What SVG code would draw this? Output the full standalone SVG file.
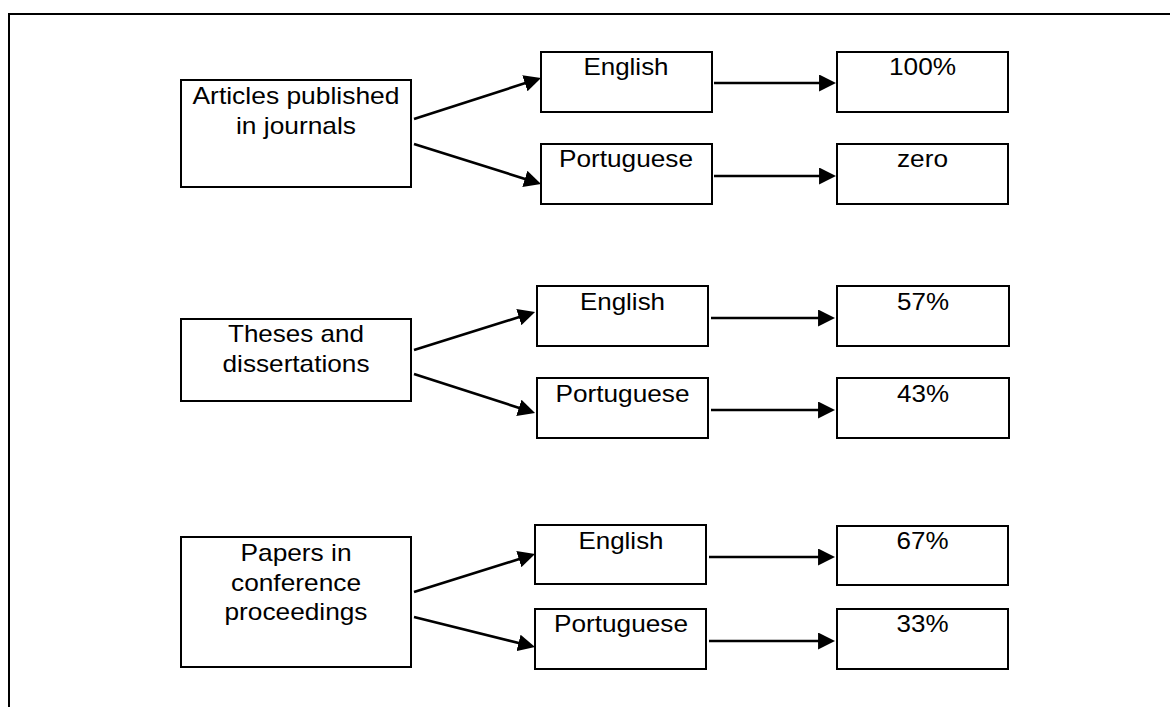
<svg xmlns="http://www.w3.org/2000/svg" width="1170" height="707" viewBox="0 0 1170 707">
<style>
.box{fill:#fff;stroke:#000;stroke-width:2}
.t{font-family:"Liberation Sans",Arial,sans-serif;font-size:24px;fill:#000;text-anchor:middle}
.c{stroke:#000;stroke-width:2.6;fill:none;marker-end:url(#ah)}
.frame{stroke:#000;stroke-width:2;fill:none}
</style>
<defs>
<marker id="ah" markerUnits="userSpaceOnUse" markerWidth="17" markerHeight="17" viewBox="0 0 16 16" refX="12" refY="8" orient="auto">
<path d="M0,0 L16,8 L0,16 z" fill="#000"/>
</marker>
</defs>
<rect width="1170" height="707" fill="#fff"/>
<path class="frame" d="M9,707 L9,14 L1170,14"/>

<g id="connectors">
<line class="c" x1="414" y1="119" x2="537" y2="79.3"/>
<line class="c" x1="414" y1="144" x2="537" y2="182.7"/>
<line class="c" x1="714" y1="83" x2="831.8" y2="83"/>
<line class="c" x1="714" y1="176" x2="831.8" y2="176"/>
<line class="c" x1="414" y1="350" x2="531" y2="313.3"/>
<line class="c" x1="414" y1="374" x2="531" y2="411.7"/>
<line class="c" x1="711" y1="318" x2="830.8" y2="318"/>
<line class="c" x1="711" y1="410" x2="830.8" y2="410"/>
<line class="c" x1="414" y1="592" x2="531" y2="555.3"/>
<line class="c" x1="414" y1="617" x2="530.9" y2="646"/>
<line class="c" x1="709" y1="557" x2="830.8" y2="557"/>
<line class="c" x1="709" y1="641" x2="830.8" y2="641"/>
</g>

<g id="articles">
<rect class="box" x="181" y="80" width="230" height="107"/>
<text class="t" x="296" y="104" textLength="207" lengthAdjust="spacingAndGlyphs">Articles published</text>
<text class="t" x="296" y="134" textLength="120" lengthAdjust="spacingAndGlyphs">in journals</text>
</g>
<g id="articles-english">
<rect class="box" x="541" y="52" width="171" height="60"/>
<text class="t" x="626" y="75" textLength="85" lengthAdjust="spacingAndGlyphs">English</text>
</g>
<g id="articles-portuguese">
<rect class="box" x="541" y="144" width="171" height="60"/>
<text class="t" x="626" y="167" textLength="134" lengthAdjust="spacingAndGlyphs">Portuguese</text>
</g>
<g id="articles-english-pct">
<rect class="box" x="837" y="52" width="171" height="60"/>
<text class="t" x="922.5" y="74.5" textLength="67" lengthAdjust="spacingAndGlyphs">100%</text>
</g>
<g id="articles-portuguese-pct">
<rect class="box" x="837" y="144" width="171" height="60"/>
<text class="t" x="922.5" y="167" textLength="51" lengthAdjust="spacingAndGlyphs">zero</text>
</g>

<g id="theses">
<rect class="box" x="181" y="319" width="230" height="82"/>
<text class="t" x="296" y="342" textLength="136" lengthAdjust="spacingAndGlyphs">Theses and</text>
<text class="t" x="296" y="372" textLength="147" lengthAdjust="spacingAndGlyphs">dissertations</text>
</g>
<g id="theses-english">
<rect class="box" x="537" y="286" width="171" height="60"/>
<text class="t" x="622.5" y="310" textLength="85" lengthAdjust="spacingAndGlyphs">English</text>
</g>
<g id="theses-portuguese">
<rect class="box" x="537" y="378" width="171" height="60"/>
<text class="t" x="622.5" y="402" textLength="134" lengthAdjust="spacingAndGlyphs">Portuguese</text>
</g>
<g id="theses-english-pct">
<rect class="box" x="837" y="286" width="172" height="60"/>
<text class="t" x="923" y="310" textLength="52" lengthAdjust="spacingAndGlyphs">57%</text>
</g>
<g id="theses-portuguese-pct">
<rect class="box" x="837" y="378" width="172" height="60"/>
<text class="t" x="923" y="402" textLength="52" lengthAdjust="spacingAndGlyphs">43%</text>
</g>

<g id="papers">
<rect class="box" x="181" y="537" width="230" height="130"/>
<text class="t" x="296" y="561" textLength="111" lengthAdjust="spacingAndGlyphs">Papers in</text>
<text class="t" x="296" y="591" textLength="130" lengthAdjust="spacingAndGlyphs">conference</text>
<text class="t" x="296" y="620" textLength="143" lengthAdjust="spacingAndGlyphs">proceedings</text>
</g>
<g id="papers-english">
<rect class="box" x="535" y="525" width="171" height="59"/>
<text class="t" x="621" y="549" textLength="85" lengthAdjust="spacingAndGlyphs">English</text>
</g>
<g id="papers-portuguese">
<rect class="box" x="535" y="609" width="171" height="60"/>
<text class="t" x="621" y="632" textLength="134" lengthAdjust="spacingAndGlyphs">Portuguese</text>
</g>
<g id="papers-english-pct">
<rect class="box" x="837" y="526" width="171" height="59"/>
<text class="t" x="922.5" y="549" textLength="52" lengthAdjust="spacingAndGlyphs">67%</text>
</g>
<g id="papers-portuguese-pct">
<rect class="box" x="837" y="609" width="171" height="60"/>
<text class="t" x="922.5" y="632" textLength="52" lengthAdjust="spacingAndGlyphs">33%</text>
</g>
</svg>
